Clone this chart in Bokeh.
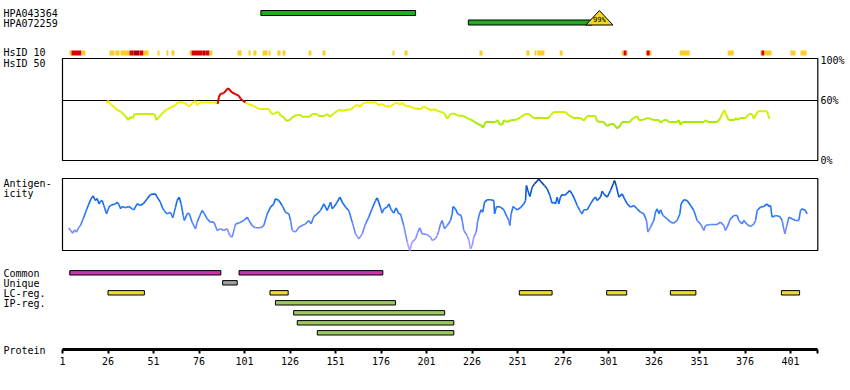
from bokeh.plotting import figure
from bokeh.models import Range1d, LinearAxis, FixedTicker
from bokeh.core.properties import value
from bokeh.embed import file_html
from bokeh.resources import INLINE

# ---------------- data ----------------
protein_length = 416
hpa_names = ["HPA043364", "HPA072259"]
hpa_start = [110, 224]
hpa_end = [195, 292]
epitope_pos = [296]
epitope_label = ["99%"]

# HsID 10 hits: level 1 = orange, 2 = red, 3 = dark red
hsid10_start = [4.8, 5.9, 11.4, 26.8, 30.1, 32.9, 37.8, 40.0, 43.3, 45.5, 53.2, 58.1, 60.9,
                70.8, 71.9, 77.9, 79.6, 81.8, 97.2, 103.2, 105.9, 110.9, 114.2, 119.1, 121.9,
                136.2, 143.9, 182.3, 188.9, 230.1, 255.9, 260.3, 261.9, 274.2, 308.2, 309.3,
                311.0, 321.4, 322.0, 323.7, 340.1, 366.5, 384.5, 385.0, 386.7, 401.0, 406.5]
hsid10_end = [5.9, 11.4, 13.6, 29.6, 32.3, 37.8, 40.0, 43.3, 45.5, 48.3, 54.3, 59.2, 62.5,
              71.9, 77.9, 79.6, 81.8, 83.4, 99.4, 104.3, 107.6, 113.6, 115.3, 120.8, 123.5,
              137.8, 145.5, 183.4, 190.6, 231.8, 257.6, 261.4, 265.8, 275.8, 309.3, 311.0,
              311.5, 322.0, 323.7, 324.7, 345.6, 369.8, 385.0, 386.7, 390.6, 403.7, 409.8]
hsid10_level = [1, 2, 1, 1, 1, 1, 2, 3, 2, 1, 1, 1, 1,
                1, 2, 3, 2, 1, 1, 1, 1, 1, 1, 1, 1,
                1, 1, 1, 1, 1, 1, 1, 1, 1, 1, 2,
                1, 1, 2, 1, 1, 1, 1, 2, 1, 1, 1]

# HsID 50 identity (%)
hsid50_res = [25.2, 25.9, 27.4, 30.1, 31.0, 33.2, 35.6, 37.1, 38.4, 39.6, 40.6, 51.5, 52.6,
              53.9, 56.7, 58.5, 61.3, 63.1, 64.0, 67.7, 69.5, 70.4, 72.3, 74.1, 75.0, 76.3,
              86.0, 86.3, 86.9, 87.8, 89.6, 92.0, 94.2, 96.1, 97.9, 98.8, 99.7, 101.5, 103.4,
              106.1, 108.9, 114.4, 115.7, 117.1, 119.3, 120.8, 122.6, 123.9, 125.9, 127.2,
              129.6, 131.8, 132.7, 136.9, 138.2, 140.9, 141.8, 144.6, 146.4, 147.9, 150.1,
              152.8, 154.7, 158.3, 159.2, 161.1, 162.9, 164.7, 165.7, 167.5, 173.0, 174.8,
              176.7, 178.5, 181.2, 183.0, 184.9, 186.7, 187.6, 189.5, 192.2, 194.0, 197.7,
              199.5, 201.4, 203.2, 205.0, 206.9, 208.7, 210.5, 212.4, 214.2, 216.0, 217.9,
              221.5, 223.3, 225.2, 227.0, 228.8, 230.7, 232.1, 233.4, 238.9, 240.2, 241.1,
              242.6, 243.5, 245.3, 246.8, 250.8, 252.6, 255.4, 257.2, 260.0, 268.2, 269.1,
              271.0, 277.4, 279.2, 282.0, 285.6, 287.4, 289.3, 293.9, 294.8, 298.4, 300.3,
              302.1, 303.9, 305.8, 307.6, 308.5, 312.7, 314.0, 316.8, 317.7, 319.5, 322.2,
              324.1, 325.9, 328.7, 329.6, 331.4, 333.2, 334.1, 338.7, 339.6, 340.6, 341.5,
              353.4, 354.3, 355.6, 360.7, 362.5, 363.5, 364.7, 365.8, 367.1, 369.9, 371.3,
              372.1, 373.2, 376.3, 378.1, 379.9, 380.8, 383.1, 388.2, 388.7, 389.5]
hsid50_pct = [57.2, 59.9, 56.6, 52.2, 50.5, 48.8, 44.4, 40.4, 43.8, 42.1, 46.5, 46.5, 40.4,
              43.1, 48.8, 51.2, 53.9, 55.2, 57.9, 57.9, 55.6, 53.9, 57.2, 59.6, 55.2, 57.9,
              57.9, 56.6, 63.3, 66.7, 67.3, 72.4, 68.0, 66.3, 64.6, 62.0, 60.6, 57.9, 56.2,
              54.5, 51.5, 51.5, 47.1, 46.5, 48.8, 45.1, 43.1, 39.7, 40.4, 43.1,
              45.5, 45.5, 43.8, 43.8, 46.5, 46.5, 44.4, 44.4, 46.5, 43.8, 47.1,
              50.5, 49.8, 51.2, 50.5, 53.9, 55.6, 53.9, 56.6, 57.9, 57.9, 55.2,
              56.6, 53.9, 53.9, 56.6, 57.9, 55.6, 57.9, 54.5, 53.9, 52.2, 51.2,
              53.9, 52.2, 50.5, 51.2, 49.8, 48.8, 47.8, 41.7, 46.5, 47.1, 45.1,
              44.4, 42.4, 41.1, 39.1, 37.0, 35.4, 33.0, 38.4, 38.4, 40.4, 36.4,
              35.7, 40.4, 38.4, 40.1, 41.1, 43.1, 46.5, 46.5, 42.4, 42.4, 45.1,
              48.5, 48.5, 45.1, 42.4, 42.4, 39.7, 44.4, 44.4, 39.1, 38.4, 34.3,
              36.4, 36.4, 32.0, 35.4, 38.4, 38.4, 41.7, 44.4, 40.4, 40.4, 42.4,
              41.7, 40.4, 40.4, 37.7, 40.4, 40.4, 38.4, 38.4, 40.4, 35.7, 38.4,
              38.4, 40.4, 38.4, 38.4, 42.4, 46.5, 50.5, 45.1, 40.4, 40.4, 42.4,
              40.4, 42.4, 42.4, 46.5, 46.5, 41.7, 49.2, 49.2, 45.1, 41.7]

# Antigenicity (relative, 0 = box bottom, 100 = box top)
antigen_res = [4.5, 5.4, 6.7, 7.6, 8.7, 10.0, 10.9, 12.7, 14.2, 15.5, 16.7, 17.8, 19.1, 20.0,
               21.1, 21.9, 22.8, 23.7, 25.2, 26.5, 27.4, 30.1, 31.0, 32.0, 32.9, 33.8, 35.6,
               37.4, 39.3, 40.2, 42.0, 43.9, 45.7, 47.5, 49.4, 52.1, 53.0, 54.8, 55.8, 56.7,
               58.5, 60.3, 61.6, 63.1, 64.0, 65.1, 66.2, 67.3, 68.0, 69.5, 70.6, 72.2, 74.1,
               75.0, 76.5, 77.7, 79.0, 80.5, 82.3, 84.2, 86.0, 87.8, 89.6, 91.5, 92.9, 94.2,
               96.1, 97.9, 100.6, 102.5, 103.4, 105.2, 107.0, 109.8, 111.6, 113.5, 115.3,
               117.1, 118.0, 119.9, 121.7, 123.5, 125.4, 126.3, 127.2, 129.0, 130.9, 132.7,
               134.5, 136.3, 137.6, 139.1, 140.9, 142.8, 144.6, 146.4, 148.3, 149.2, 150.1,
               151.9, 153.4, 154.7, 156.5, 158.3, 160.2, 162.0, 163.8, 165.7, 167.5, 169.3,
               171.1, 173.0, 173.9, 175.7, 176.6, 177.6, 179.4, 180.3, 181.6, 183.0, 184.3,
               185.8, 186.7, 188.5, 190.4, 191.8, 193.1, 195.0, 196.2, 197.3, 198.6, 201.4,
               203.2, 204.1, 205.9, 206.9, 207.8, 208.7, 209.6, 210.9, 212.4, 214.2, 215.1,
               215.6, 216.9, 218.2, 220.0, 220.6, 221.5, 223.3, 224.3, 225.2, 226.1, 227.0,
               228.3, 229.2, 230.1, 231.0, 231.9, 232.9, 234.3, 236.2, 238.0, 238.4, 239.5,
               241.7, 243.5, 245.3, 246.2, 246.8, 247.5, 248.6, 250.8, 252.6, 254.5, 255.4,
               255.9, 256.7, 257.8, 259.1, 260.3, 261.8, 262.7, 263.6, 265.8, 267.3, 268.8,
               270.0, 271.0, 271.9, 272.8, 273.7, 274.6, 275.5, 276.8, 278.3, 279.6, 281.0,
               282.3, 283.8, 285.2, 286.5, 287.4, 289.3, 291.1, 292.9, 293.9, 294.8, 296.6,
               297.5, 298.4, 300.3, 302.1, 303.6, 304.3, 305.2, 306.7, 308.5, 309.8, 311.3,
               313.1, 314.9, 316.7, 318.6, 320.4, 321.9, 322.6, 324.1, 325.9, 326.8, 327.7,
               328.7, 329.6, 331.0, 333.2, 335.1, 336.9, 338.7, 340.2, 340.9, 342.4, 344.2,
               346.1, 347.9, 349.7, 351.5, 353.4, 354.3, 357.0, 360.7, 362.5, 364.4, 365.3,
               366.2, 368.0, 369.9, 371.7, 372.6, 374.4, 375.4, 377.2, 379.0, 380.9, 381.8,
               382.7, 384.5, 386.3, 388.2, 389.1, 390.0, 390.9, 392.8, 395.1, 396.4, 397.3,
               397.9, 399.2, 400.1, 401.9, 403.7, 405.6, 406.5, 407.4, 409.2, 410.1]
antigen_val = [31.5, 27.8, 24.1, 28.7, 25.5, 32.4, 34.7, 46.3, 56.5, 64.8, 71.8, 75.9, 69.4, 72.2,
               64.8, 68.5, 69.4, 62.5, 50.9, 60.2, 62.5, 64.8, 67.1, 63.9, 57.9, 61.1, 59.3,
               61.1, 57.9, 56.5, 64.8, 62.5, 65.7, 71.8, 77.8, 78.7, 74.1, 67.1, 60.2, 55.6,
               50.9, 53.2, 45.4, 60.2, 69.4, 74.1, 64.8, 48.6, 41.7, 50.9, 51.9, 39.4, 30.1,
               39.4, 48.6, 55.6, 50.9, 44.0, 39.4, 39.4, 27.8, 30.1, 27.8, 30.1, 20.8, 18.5,
               37.0, 38.0, 41.7, 46.3, 41.7, 34.7, 31.5, 31.5, 34.7, 50.9, 60.2,
               64.8, 71.8, 69.4, 62.5, 53.2, 50.9, 41.7, 27.8, 25.5, 32.4, 34.7,
               37.0, 41.7, 37.0, 47.2, 50.9, 55.6, 64.8, 55.6, 67.1, 57.9, 60.2,
               67.1, 74.1, 67.1, 60.2, 55.6, 39.4, 23.1, 16.2, 23.1, 37.0, 46.3,
               57.9, 69.4, 73.1, 60.2, 51.9, 57.9, 60.2, 64.8, 56.5, 51.9, 59.3,
               50.9, 50.9, 34.7, 11.6, 0.0, 11.6, 16.2, 25.5, 31.5, 23.1, 22.2,
               18.5, 13.9, 16.2, 20.8, 27.8, 37.0, 41.7, 30.1, 34.7, 41.7, 50.9,
               61.1, 57.9, 50.9, 48.6, 41.7, 27.8, 20.8, 13.9, 2.3, 6.9, 18.5,
               25.5, 41.7, 50.9, 56.5, 53.2, 67.1, 70.4, 70.4, 69.4, 50.9, 61.1,
               60.2, 56.5, 46.3, 41.7, 34.7, 50.9, 61.1, 56.5, 59.3, 64.8, 69.4,
               90.3, 83.3, 75.0, 88.0, 92.6, 96.3, 99.5, 96.3, 90.3, 85.6, 76.4,
               65.7, 67.1, 64.8, 74.1, 64.8, 74.1, 77.8, 76.4, 79.6, 83.3, 78.7,
               71.8, 62.5, 55.6, 50.9, 56.5, 56.5, 64.8, 71.8, 74.1, 69.4, 74.1,
               82.4, 78.7, 74.1, 83.3, 92.6, 97.2, 90.3, 74.1, 78.7, 71.8, 64.8,
               60.2, 62.5, 57.9, 53.2, 50.9, 41.7, 25.5, 32.4, 41.7, 53.2, 57.9,
               50.9, 56.5, 48.6, 44.0, 39.4, 38.0, 41.7, 50.9, 64.8, 70.4, 69.4,
               62.5, 55.6, 41.7, 37.0, 27.8, 34.7, 36.1, 36.1, 39.4, 34.7, 27.8,
               32.4, 44.0, 48.6, 48.6, 41.7, 37.0, 41.7, 36.1, 33.3, 37.0, 41.7,
               55.6, 60.2, 61.1, 64.8, 61.1, 62.5, 46.3, 48.6, 47.2, 41.7, 30.1,
               23.1, 37.0, 46.3, 44.0, 41.7, 41.7, 55.6, 57.9, 55.6, 50.9]

common_start = [5, 98]
common_end = [88, 177]
unique_start = [89]
unique_end = [97]
lc_start = [26, 115, 252, 300, 335, 396]
lc_end = [46, 125, 270, 311, 349, 406]
ip_start = [118, 128, 130, 141]
ip_end = [184, 211, 216, 216]

tick_values = [1, 26, 51, 76, 101, 126, 151, 176, 201, 226, 251, 276, 301, 326, 351, 376, 401]

# ---------------- layout (page pixels) ----------------
W, H = 850, 390
FRAME_H = 368
AXIS_Y = 349
X0_PX, PX_PER_RES = 62, 1.82
FONT = value("DejaVu Sans Mono")


def rx(px):
    return (px - X0_PX) / PX_PER_RES + 1


def lerp_color(v, stops):
    v = max(stops[0][0], min(stops[-1][0], v))
    for (a, ca), (b, cb) in zip(stops[:-1], stops[1:]):
        if a <= v <= b:
            t = (v - a) / (b - a) if b > a else 0
            c = [int(round(ca[i] + (cb[i] - ca[i]) * t)) for i in range(3)]
            return "#%02x%02x%02x" % tuple(c)
    return "#000000"


def hsid_color(v):
    if v >= 60:
        return "#dd0000"
    return lerp_color(v, [(33, (140, 230, 0)), (46, (200, 240, 0)), (57, (250, 238, 0))])


def ag_color(v):
    return lerp_color(v, [(0, (175, 165, 255)), (25, (125, 140, 255)), (45, (60, 125, 250)),
                          (65, (20, 110, 240)), (85, (10, 85, 205)), (100, (10, 60, 150))])


p = figure(width=W, height=H, output_backend="svg", toolbar_location=None,
           x_range=Range1d(rx(0), rx(W)), y_range=Range1d(FRAME_H, 0),
           x_axis_type=None, y_axis_type=None, min_border_left=0, min_border_right=0,
           min_border_top=0, min_border_bottom=H - FRAME_H)
p.extra_y_ranges = {
    "pct": Range1d(160 - FRAME_H, 160),
    "ag": Range1d((250 - FRAME_H) / 0.72, 250 / 0.72),
}
p.grid.visible = False
p.outline_line_color = None
p.background_fill_color = "white"

# left labels
lab_x = rx(3)
labels = ["HPA043364", "HPA072259", "HsID 10", "HsID 50", "Antigen-", "icity",
          "Common", "Unique", "LC-reg.", "IP-reg.", "Protein"]
lab_y = [12.5, 22.5, 52, 63, 183, 193, 272.5, 282.5, 292.5, 302.5, 349.5]
p.text(x=[lab_x] * len(labels), y=lab_y, text=labels, text_font=FONT,
       text_font_size="10px", text_baseline="middle", text_align="left", text_color="black")

# HPA antibody bars
hpa_y = [12.5, 22]
p.quad(left=hpa_start, right=hpa_end, top=[y - 2.5 for y in hpa_y],
       bottom=[y + 2.5 for y in hpa_y], fill_color="#22aa22", line_color="black", line_width=1)
# identity triangle
for pos, lab in zip(epitope_pos, epitope_label):
    half = 7.4
    p.patch(x=[pos - half, pos, pos + half], y=[24.5, 10, 24.5], fill_color="#f2d52a",
            line_color="black", line_width=1)
    p.text(x=[pos], y=[19.5], text=[lab], text_font=FONT, text_font_size="7px",
           text_baseline="middle", text_align="center", text_color="black")

# HsID 10 track
lvl_colors = {1: "#ffcc22", 2: "#dd0000", 3: "#aa0000"}
p.quad(left=hsid10_start, right=hsid10_end, top=[50] * len(hsid10_start),
       bottom=[55] * len(hsid10_start), fill_color=[lvl_colors[l] for l in hsid10_level],
       line_color=None)

# HsID 50 box
p.quad(left=[1], right=[protein_length], top=[58], bottom=[160], fill_color=None,
       line_color="black", line_width=1.2)
p.segment(x0=[1], x1=[protein_length], y0=[60], y1=[60], y_range_name="pct",
          line_color="black", line_width=1.2)
p.segment(x0=hsid50_res[:-1], x1=hsid50_res[1:], y0=hsid50_pct[:-1], y1=hsid50_pct[1:],
          y_range_name="pct", line_width=2.0,
          line_color=[hsid_color(max(a, b)) for a, b in zip(hsid50_pct[:-1], hsid50_pct[1:])])
p.text(x=[rx(820)] * 3, y=[100, 60, 0], text=["100%", "60%", "0%"], y_range_name="pct",
       text_font=FONT, text_font_size="10px", text_baseline="middle", text_align="left")

# Antigenicity box
p.quad(left=[1], right=[protein_length], top=[178], bottom=[250], fill_color=None,
       line_color="black", line_width=1.2)
p.segment(x0=antigen_res[:-1], x1=antigen_res[1:], y0=antigen_val[:-1], y1=antigen_val[1:],
          y_range_name="ag", line_width=1.6,
          line_color=[ag_color((a + b) / 2) for a, b in zip(antigen_val[:-1], antigen_val[1:])])

# feature tracks


def track(starts, ends, yc, color):
    p.quad(left=starts, right=ends, top=[yc - 2.2] * len(starts), bottom=[yc + 2.2] * len(starts),
           fill_color=color, line_color="black", line_width=1)


track(common_start, common_end, 272.3, "#cc33aa")
track(unique_start, unique_end, 282.3, "#a0a0a0")
track(lc_start, lc_end, 292.3, "#eadb2c")
for i, (s, e) in enumerate(zip(ip_start, ip_end)):
    track([s], [e], 302.3 + 10 * i, "#9cc864")

# protein axis (drawn at a fixed location inside the frame)
axis = LinearAxis(ticker=FixedTicker(ticks=tick_values + [protein_length]),
                  bounds=(1, protein_length), fixed_location=AXIS_Y)
axis.major_label_overrides = {protein_length: ""}
axis.axis_line_width = 3
axis.axis_line_color = "black"
axis.major_tick_line_width = 2
axis.major_tick_in = 0
axis.major_tick_out = 4
axis.minor_tick_line_color = None
axis.major_label_standoff = 3
axis.major_label_text_font = "DejaVu Sans Mono"
axis.major_label_text_font_size = "10px"
axis.major_label_text_color = "black"
p.add_layout(axis, "below")

open("out.html", "w").write(file_html(p, INLINE))
